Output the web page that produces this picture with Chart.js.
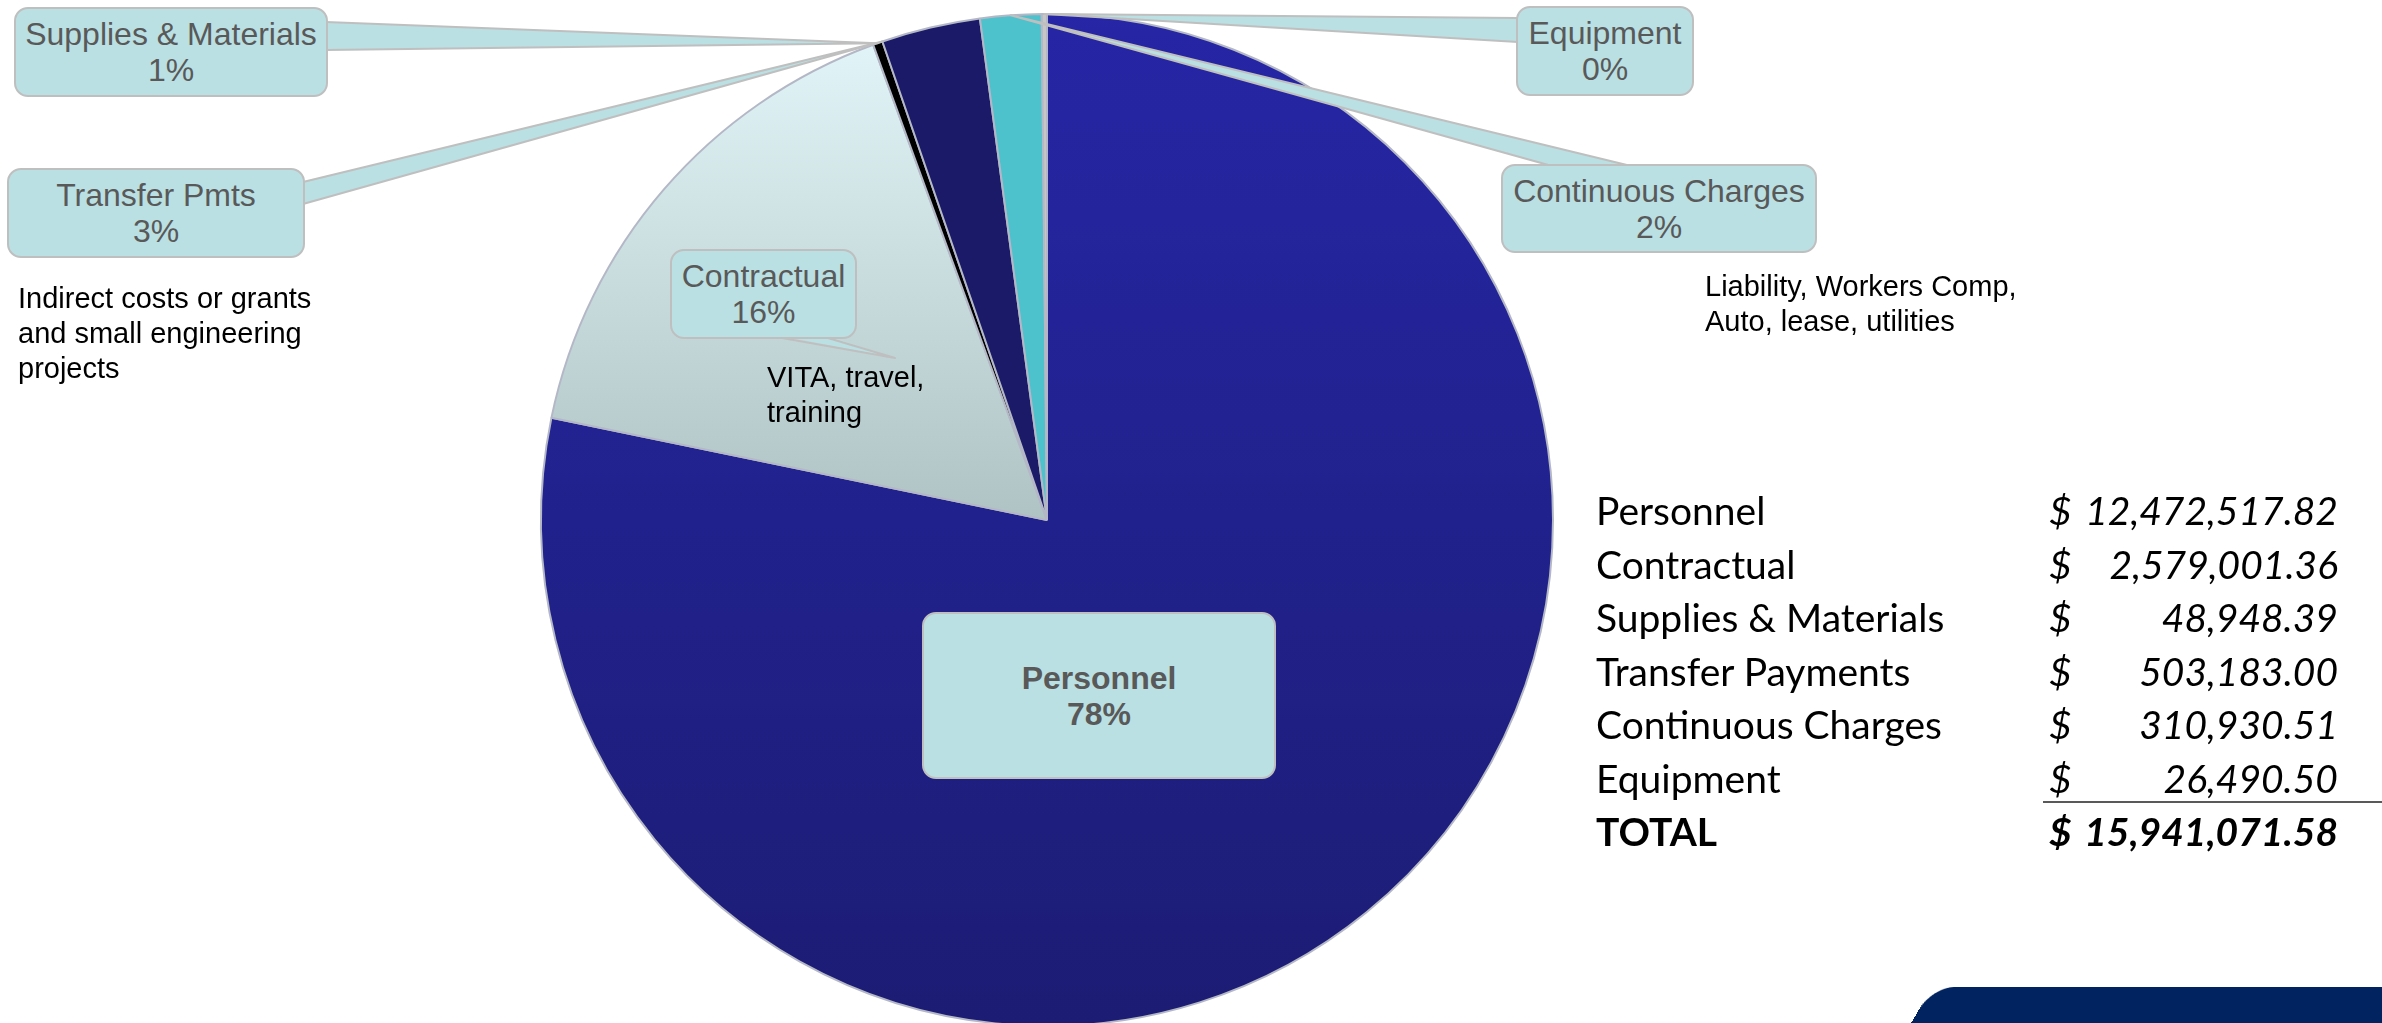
<!DOCTYPE html>
<html>
<head>
<meta charset="utf-8">
<script src="https://cdn.jsdelivr.net/npm/chart.js@4.4.1/dist/chart.umd.min.js"></script>
<style>
    html, body { margin: 0; padding: 0; background: #fff; }
    body {
        width: 2382px; height: 1023px; overflow: hidden; position: relative;
        font-family: 'Liberation Sans', Arial, sans-serif;
    }
    #wrap { position: absolute; left: 0; top: 0; width: 2382px; height: 1040px; }
    .callout {
        position: absolute; box-sizing: border-box;
        background: #BAE0E3; border: 2px solid #BFBFBF; border-radius: 14px;
        color: #595959; font-size: 32px; line-height: 36px;
        display: flex; flex-direction: column; justify-content: center; align-items: center;
        text-align: center; white-space: nowrap;
    }
    .callout.bold { font-weight: bold; }
    .note { position: absolute; color: #000; font-size: 29px; line-height: 35px; white-space: nowrap; }
    .cell { position: absolute; font-family: Lato, 'Noto Sans', sans-serif; font-size: 39px; line-height: 53px; color: #000; white-space: nowrap; }
    .cell.num { font-style: italic; text-align: right; }
    .cell.total { font-weight: bold; }
    #rule { position: absolute; left: 2043px; top: 801px; width: 339px; height: 2px; background: #595959; }
    #corner {
        position: absolute; left: 1932px; top: 987px; width: 600px; height: 80px;
        background: #012460; border-top-left-radius: 22px;
        transform: skewX(-30deg); transform-origin: 0 0;
    }
</style>
</head>
<body>
<div id="wrap"><canvas id="budget-pie"></canvas></div>
<div id="overlay"></div>
<div id="rule"></div>
<div id="corner"></div>

<script>
// --- data ---
const categories = ['Personnel', 'Contractual', 'Supplies & Materials', 'Transfer Payments', 'Continuous Charges', 'Equipment'];
const amounts    = [12472517.82, 2579001.36, 48948.39, 503183.00, 310930.51, 26490.50];
const sliceNames = ['Personnel', 'Contractual', 'Supplies & Materials', 'Transfer Pmts', 'Continuous Charges', 'Equipment'];
const sliceShare = ['78%', '16%', '1%', '3%', '2%', '0%'];
const totalLabel = 'TOTAL';

// free notes beside the callouts
const notes = [
    ['Indirect costs or grants', 'and small engineering', 'projects'],
    ['VITA, travel,', 'training'],
    ['Liability, Workers Comp,', 'Auto, lease, utilities'],
];

// --- styling / layout ---
const SLICE_COLORS = ['#2525A2', '#DFF6F9', '#000000', '#1A1A68', '#4DC2CC', '#C6C6C6'];

const CALLOUT_BOX = [
    { left: 922,  top: 612, w: 354, h: 167, bold: true },
    { left: 670,  top: 249, w: 187, h: 90 },
    { left: 14,   top: 7,   w: 314, h: 90 },
    { left: 7,    top: 168, w: 298, h: 90 },
    { left: 1501, top: 164, w: 316, h: 89 },
    { left: 1516, top: 6,   w: 178, h: 90 },
];

// leader wedges: base points on the box, tip on the slice edge
const LEADERS = [
    { index: 2, at: 'mid',   base: [[326, 22], [326, 50]] },
    { index: 3, at: 'start', base: [[303, 182], [303, 204]] },
    { index: 4, at: 'mid',   base: [[1552, 166], [1631, 166]] },
    { index: 5, at: 'mid',   base: [[1518, 18], [1518, 42]] },
];

const NOTE_POS = [
    { left: 18,   top: 281 },
    { left: 767,  top: 360 },
    { left: 1705, top: 269 },
];

function fmt(v) {
    return v.toLocaleString('en-US', { minimumFractionDigits: 2, maximumFractionDigits: 2 });
}

function sliceFill(ctx) {
    const i = ctx.dataIndex;
    const area = ctx.chart.chartArea;
    if (!area) return SLICE_COLORS[i];
    const c = ctx.chart.ctx;
    if (i === 0) {
        const g = c.createLinearGradient(0, area.top, 0, area.bottom);
        g.addColorStop(0, '#2626A6');
        g.addColorStop(1, '#1C1C74');
        return g;
    }
    if (i === 1) {
        const g = c.createLinearGradient(0, area.top, 0, (area.top + area.bottom) / 2);
        g.addColorStop(0, '#E4F8FB');
        g.addColorStop(1, '#AFC3C4');
        return g;
    }
    return SLICE_COLORS[i];
}

const leaderPlugin = {
    id: 'leaders',
    afterDatasetsDraw(chart) {
        const arcs = chart.getDatasetMeta(0).data;
        const ctx = chart.ctx;
        ctx.save();
        ctx.fillStyle = '#BAE0E3';
        ctx.strokeStyle = '#BFBFBF';
        ctx.lineWidth = 2;
        ctx.lineJoin = 'round';

        LEADERS.forEach(l => {
            const arc = arcs[l.index];
            const p = arc.getProps(['x', 'y', 'startAngle', 'endAngle', 'outerRadius'], true);
            const a = l.at === 'start' ? p.startAngle : (p.startAngle + p.endAngle) / 2;
            const tx = p.x + Math.cos(a) * p.outerRadius;
            const ty = p.y + Math.sin(a) * p.outerRadius;
            const [b1, b2] = l.base;
            ctx.beginPath();
            ctx.moveTo(b1[0], b1[1]);
            ctx.lineTo(tx, ty);
            ctx.lineTo(b2[0], b2[1]);
            ctx.closePath();
            ctx.fill();
            ctx.beginPath();
            ctx.moveTo(b1[0], b1[1]);
            ctx.lineTo(tx, ty);
            ctx.lineTo(b2[0], b2[1]);
            ctx.stroke();
        });

        // small speech tail under the Contractual box
        ctx.beginPath();
        ctx.moveTo(782, 336);
        ctx.lineTo(895, 358);
        ctx.lineTo(828, 336);
        ctx.closePath();
        ctx.fill();
        ctx.beginPath();
        ctx.moveTo(782, 338);
        ctx.lineTo(895, 358);
        ctx.lineTo(828, 338);
        ctx.stroke();
        ctx.restore();
    }
};

new Chart(document.getElementById('budget-pie').getContext('2d'), {
    type: 'pie',
    data: {
        labels: categories,
        datasets: [{
            data: amounts,
            backgroundColor: sliceFill,
            borderColor: '#B4B8C6',
            borderWidth: 2,
        }]
    },
    options: {
        responsive: true,
        maintainAspectRatio: false,
        animation: false,
        rotation: 0,
        layout: { padding: { left: 540, right: 828, top: 13, bottom: 13 } },
        plugins: {
            legend: { display: false },
            tooltip: { enabled: false },
        }
    },
    plugins: [leaderPlugin]
});

// --- callouts, notes and the totals table as real text ---
const overlay = document.getElementById('overlay');

function addDiv(cls, style, html) {
    const d = document.createElement('div');
    d.className = cls;
    Object.assign(d.style, style);
    d.innerHTML = html;
    overlay.appendChild(d);
    return d;
}

sliceNames.forEach((name, i) => {
    const b = CALLOUT_BOX[i];
    addDiv('callout' + (b.bold ? ' bold' : ''), {
        left: b.left + 'px', top: b.top + 'px', width: b.w + 'px', height: b.h + 'px'
    }, `<div>${name.replace('&', '&amp;')}</div><div>${sliceShare[i]}</div>`);
});

notes.forEach((lines, i) => {
    const p = NOTE_POS[i];
    addDiv('note', { left: p.left + 'px', top: p.top + 'px' }, lines.join('<br>'));
});

const total = amounts.reduce((a, b) => a + b, 0);
const rows = categories.map((c, i) => [c, amounts[i], false]).concat([[totalLabel, total, true]]);
rows.forEach(([label, value, isTotal], i) => {
    const top = 484 + i * 53.5;
    const extra = isTotal ? ' total' : '';
    addDiv('cell' + extra, { left: '1596px', top: top + 'px' }, label.replace('&', '&amp;'));
    addDiv('cell num' + extra, { left: '2049px', top: top + 'px' }, '$');
    addDiv('cell num' + extra, { right: '44px', top: top + 'px' }, fmt(value));
});
</script>
</body>
</html>
